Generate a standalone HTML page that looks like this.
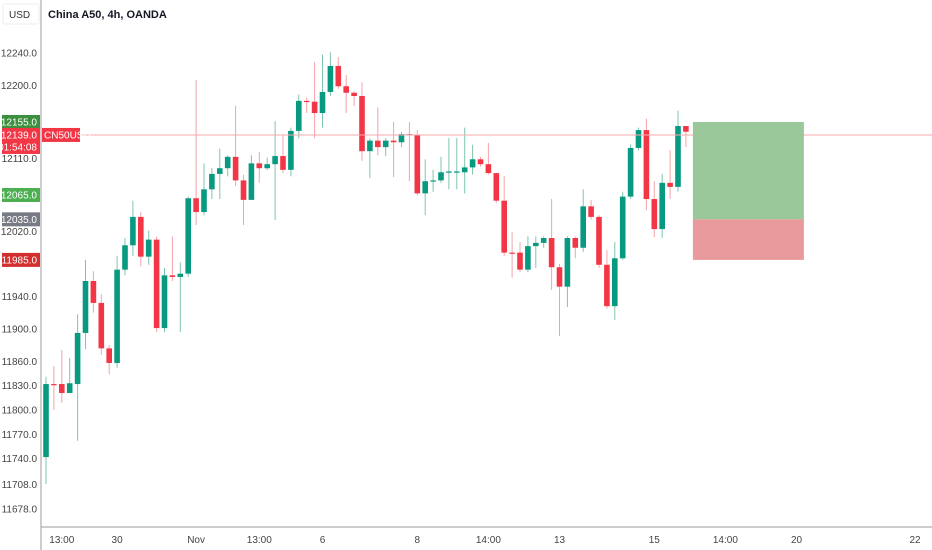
<!DOCTYPE html>
<html><head><meta charset="utf-8"><style>
html,body{margin:0;padding:0;background:#fff;}
svg{display:block;font-family:"Liberation Sans",sans-serif;}
</style></head><body>
<svg id="chart" width="932" height="550" viewBox="0 0 932 550" xmlns="http://www.w3.org/2000/svg">
<rect x="0" y="0" width="932" height="550" fill="#fff"/>
<g id="marks"></g>
<g id="overlay"></g>
<line x1="41" y1="0" x2="41" y2="550" stroke="#9b9b9b" stroke-width="1"/>
<line x1="41" y1="527" x2="932" y2="527" stroke="#9b9b9b" stroke-width="1"/>
<g id="yaxis"></g>
<g id="xaxis"></g>
<rect x="3" y="4" width="36" height="20" rx="2" fill="#fff" stroke="#eee"/>
<text x="9" y="18" font-size="10" fill="#333">USD</text>
<text x="48" y="18" font-size="11" font-weight="bold" fill="#131722">China A50, 4h, OANDA</text>
</svg>
<script>
const opens  = [11742,11832,11832,11821,11832,11895,11959,11932,11876,11858,11973,12003,12038,11989,12010,11901,11966,11964,11968,12061,12044,12072,12091,12098,12112,12083,12059,12104,12098,12103,12113,12096,12144,12181,12180,12166,12192,12224,12199,12191,12187,12119,12132,12124,12132,12130,12140,12139,12067,12082,12083,12093,12093,12093,12099,12109,12103,12092,12058,11994,11994,11973,12002,12006,12012,11976,11952,12012,12000,12051,12038,11979,11928,11987,12063,12123,12145,12060,12023,12080,12075,12150];
const highs  = [11841,11854,11874,11864,11918,11985,11971,11943,11880,11990,12012,12058,12044,12021,12014,11975,12014,11982,12063,12207,12104,12098,12122,12114,12175,12090,12114,12118,12111,12156,12139,12148,12189,12185,12229,12238,12241,12235,12213,12193,12204,12135,12173,12135,12155,12143,12155,12145,12109,12096,12112,12135,12135,12148,12127,12112,12129,12092,12088,12019,12007,12014,12014,12014,12060,11980,12014,12014,12072,12059,12040,11997,12007,12069,12127,12148,12159,12082,12091,12120,12169,12150];
const lows   = [11709,11800,11809,11821,11762,11875,11920,11868,11844,11852,11966,11990,11977,11979,11896,11896,11959,11896,11964,12028,12040,12060,12060,12088,12076,12028,12059,12080,12096,12034,12092,12088,12135,12166,12135,12148,12187,12196,12166,12175,12107,12086,12114,12113,12087,12124,12082,12065,12040,12069,12080,12072,12072,12067,12090,12100,12090,12055,11990,11963,11970,11970,11975,12000,11948,11891,11927,11987,11995,12035,11975,11925,11911,11985,12060,12120,12046,12013,12012,12060,12069,12124];
const closes = [11832,11831,11821,11833,11895,11959,11932,11876,11858,11973,12003,12038,11989,12010,11901,11966,11964,11968,12061,12044,12072,12091,12098,12112,12083,12059,12104,12098,12103,12113,12096,12144,12181,12180,12166,12192,12224,12199,12191,12187,12119,12132,12124,12132,12130,12140,12139,12067,12082,12083,12093,12094,12094,12099,12109,12103,12092,12058,11994,11993,11973,12002,12006,12012,11976,11952,12012,12000,12051,12038,11979,11928,11987,12063,12123,12145,12060,12023,12080,12075,12150,12143];
const yTicks = [12240,12200,12110,12020,11940,11900,11860,11830,11800,11770,11740,11708,11678];
const xLabels = ["13:00","30","Nov","13:00","6","8","14:00","13","15","14:00","20","22"];
const xLabelBars = [2,9,19,27,35,47,56,65,77,86,95,110];
const currentPrice = 12139;
const targetPrice = 12155;
const entryPrice = 12035;
const stopPrice = 11985;
const tpLabel = 12065;

const NS="http://www.w3.org/2000/svg";
function y(p){return 53+(12240-p)*0.8114;}
function x(i){return 46+i*7.9;}
function mk(tag,attrs,parent){const e=document.createElementNS(NS,tag);for(const k in attrs)e.setAttribute(k,attrs[k]);parent.appendChild(e);return e;}
const marks=document.getElementById('marks');
const overlay=document.getElementById('overlay');
const yaxis=document.getElementById('yaxis');
const xaxis=document.getElementById('xaxis');

// price line
const pl=mk('line',{x1:41,x2:932,y1:y(currentPrice),y2:y(currentPrice),stroke:'#f7a8ae','stroke-width':1},overlay);



// position box
const x0=x(opens.length-1)+7, x1b=x0+111;
const g1=mk('rect',{x:x0,y:y(targetPrice),width:x1b-x0,height:y(entryPrice)-y(targetPrice),fill:'#9bc89b'},overlay);


const r1=mk('rect',{x:x0,y:y(entryPrice),width:x1b-x0,height:y(stopPrice)-y(entryPrice),fill:'#e99a9c'},overlay);



for(let i=0;i<opens.length;i++){
  const up=closes[i]>=opens[i];
  const wc=up?'#7fc4b0':'#f5a3a9', bc=up?'#089981':'#f23645';
  const cx=x(i);
  const w=mk('line',{x1:cx,x2:cx,y1:y(highs[i]),y2:y(lows[i]),stroke:wc,'stroke-width':1},marks);
  
  
  const top=y(Math.max(opens[i],closes[i])), bot=y(Math.min(opens[i],closes[i]));
  const b=mk('rect',{x:cx-2.8,y:top,width:5.6,height:Math.max(1.2,bot-top),fill:bc},marks);
  
  
}

yTicks.forEach(t=>{
  const e=mk('text',{x:37,y:y(t)+3.5,'font-size':10,fill:'#444','text-anchor':'end'},yaxis);
  e.textContent=t.toFixed(1);
  
  
});
function tag(p,color,extra){
  const yy=y(p);
  const h=extra?26:14;
  const r=mk('rect',{x:2,y:yy-7,width:38,height:h,fill:color},yaxis);
  
  
  const t=mk('text',{x:37,y:yy+3.5,'font-size':10,fill:'#fff','text-anchor':'end'},yaxis);
  t.textContent=p.toFixed(1);
  
  
  if(extra){
    const t2=mk('text',{x:37,y:yy+15.5,'font-size':10,fill:'#fff','text-anchor':'end'},yaxis);
    t2.textContent=extra;
    
    
  }
}
tag(targetPrice,'#3c8f3e');
tag(tpLabel,'#4caf50');
tag(entryPrice,'#787b86');
tag(stopPrice,'#d32f2f');
tag(currentPrice,'#f23645','01:54:08');
const sym=mk('rect',{x:42,y:y(currentPrice)-7,width:38,height:14,fill:'#f23645'},yaxis);


const st=mk('text',{x:44,y:y(currentPrice)+3.5,'font-size':10,fill:'#fff'},yaxis);
st.textContent='CN50USD';



xLabels.forEach((l,k)=>{
  const e=mk('text',{x:x(xLabelBars[k]),y:543,'font-size':10,fill:'#444','text-anchor':'middle'},xaxis);
  e.textContent=l;
  
  
});
</script>
</body></html>
